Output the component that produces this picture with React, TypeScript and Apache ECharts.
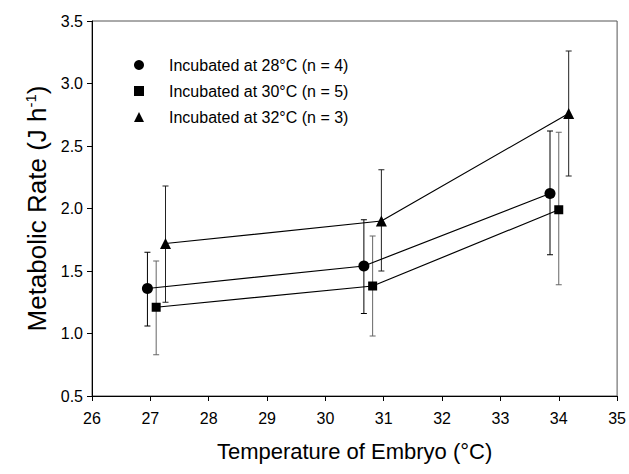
import React, { useEffect, useRef } from "react";
import * as echarts from "echarts";

const seriesNames = [
  "Incubated at 28°C (n = 4)",
  "Incubated at 30°C (n = 5)",
  "Incubated at 32°C (n = 3)",
];
const symbols = ["circle", "rect", "triangle"];
const symbolSizes = [11, 9, 11];
const errColors = ["#000000", "#666666", "#222222"];

// embryo temperatures (x) per group
const x28 = [26.95, 30.66, 33.85];
const x30 = [27.1, 30.81, 34.0];
const x32 = [27.26, 30.96, 34.17];
// mean metabolic rate
const y28 = [1.36, 1.54, 2.12];
const y30 = [1.21, 1.38, 1.99];
const y32 = [1.72, 1.9, 2.76];
// error bar lows / highs
const lo28 = [1.06, 1.16, 1.63];
const hi28 = [1.65, 1.91, 2.62];
const lo30 = [0.83, 0.98, 1.39];
const hi30 = [1.58, 1.78, 2.61];
const lo32 = [1.25, 1.5, 2.26];
const hi32 = [2.18, 2.31, 3.26];

const xs = [x28, x30, x32];
const ys = [y28, y30, y32];
const los = [lo28, lo30, lo32];
const his = [hi28, hi30, hi32];

const FONT = "Liberation Sans, Arial, sans-serif";

export default function App() {
  const ref = useRef<HTMLDivElement>(null);
  useEffect(() => {
    document.body.style.margin = "0";
    const chart = echarts.init(ref.current!, null, { renderer: "svg" });
    const errSeries = xs.map((xv, i) => ({
      type: "custom",
      silent: true,
      z: 1,
      data: xv.map((x, j) => [x, los[i][j], his[i][j]]),
      renderItem: (params: any, api: any) => {
        const lowP = api.coord([api.value(0), api.value(1)]);
        const highP = api.coord([api.value(0), api.value(2)]);
        const w = 3;
        const style = { stroke: errColors[i], lineWidth: 1 };
        return {
          type: "group",
          children: [
            { type: "line", shape: { x1: lowP[0], y1: lowP[1], x2: highP[0], y2: highP[1] }, style },
            { type: "line", shape: { x1: lowP[0] - w, y1: lowP[1], x2: lowP[0] + w, y2: lowP[1] }, style },
            { type: "line", shape: { x1: highP[0] - w, y1: highP[1], x2: highP[0] + w, y2: highP[1] }, style },
          ],
        };
      },
    }));
    const lineSeries = xs.map((xv, i) => ({
      type: "line",
      name: seriesNames[i],
      z: 3,
      symbol: symbols[i],
      symbolSize: symbolSizes[i],
      itemStyle: { color: "#000" },
      lineStyle: { color: "#000", width: 1.2 },
      data: xv.map((x, j) => [x, ys[i][j]]),
    }));
    chart.setOption({
      animation: false,
      backgroundColor: "#fff",
      textStyle: { fontFamily: FONT },
      grid: {
        left: 92,
        right: 11,
        top: 21,
        bottom: 78,
        show: true,
        borderColor: "#555",
        borderWidth: 1,
      },
      legend: {
        orient: "vertical",
        left: 129,
        top: 52,
        itemWidth: 10,
        itemHeight: 10,
        itemGap: 10,
        data: seriesNames.map((n, i) => ({ name: n, icon: symbols[i] })),
        textStyle: {
          fontFamily: FONT,
          fontSize: 16,
          color: "#000",
          lineHeight: 12,
          padding: [0, 0, 0, 20],
        },
        itemStyle: { color: "#000" },
      },
      xAxis: {
        type: "value",
        min: 26,
        max: 35,
        interval: 1,
        name: "Temperature of Embryo (°C)",
        nameLocation: "middle",
        nameGap: 44,
        nameTextStyle: { fontFamily: FONT, fontSize: 22, color: "#000" },
        axisLine: { lineStyle: { color: "#000" } },
        axisTick: { length: 5, lineStyle: { color: "#000" } },
        axisLabel: { fontFamily: FONT, fontSize: 16, color: "#000", margin: 14 },
        splitLine: { show: false },
      },
      yAxis: {
        type: "value",
        min: 0.5,
        max: 3.5,
        interval: 0.5,
        name: "Metabolic Rate (J h{sup|-1})",
        nameLocation: "middle",
        nameGap: 33,
        nameTextStyle: {
          fontFamily: FONT,
          fontSize: 26,
          color: "#000",
          rich: {
            sup: { fontFamily: FONT, fontSize: 15, color: "#000", verticalAlign: "top", padding: [0, 0, 12, 0] },
          },
        },
        axisLine: { show: true, lineStyle: { color: "#000" } },
        axisTick: { length: 5, lineStyle: { color: "#000" } },
        axisLabel: {
          fontFamily: FONT,
          fontSize: 16,
          color: "#000",
          margin: 9,
          formatter: (v: number) => v.toFixed(1),
        },
        splitLine: { show: false },
      },
      series: [...errSeries, ...lineSeries],
    });
    return () => chart.dispose();
  }, []);
  return <div ref={ref} style={{ width: 629, height: 474, position: "absolute", left: 0, top: 0 }} />;
}
